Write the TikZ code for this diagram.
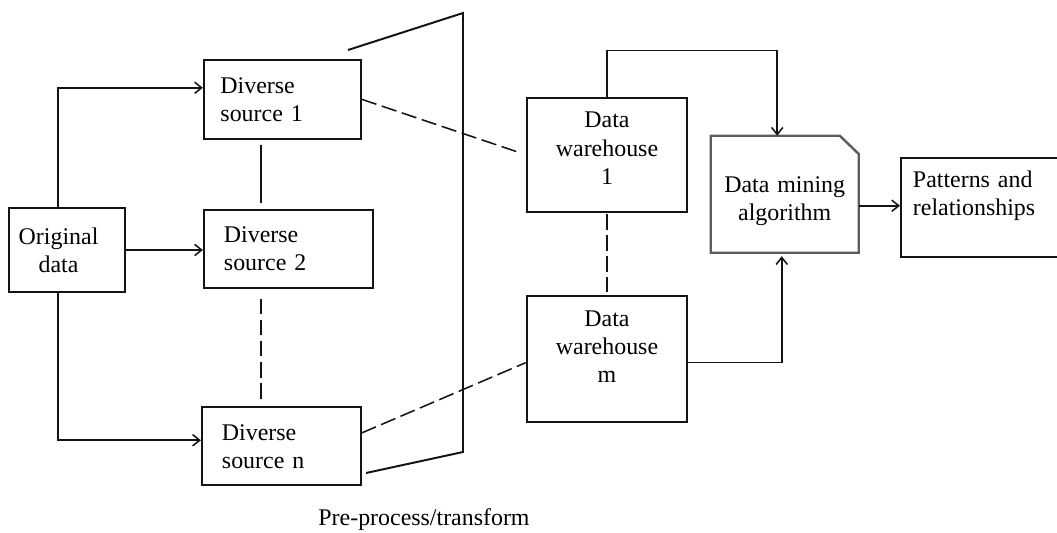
\documentclass[tikz,border=0pt]{standalone}
\usepackage{fontspec}
\setmainfont{Liberation Serif}
\usetikzlibrary{arrows.meta,calc}
\definecolor{dmInk}{HTML}{141414}
\definecolor{dmEdge}{HTML}{5C5C5C}
\tikzset{
  box/.style={draw=dmInk, line width=1.4pt, inner sep=0pt,
    font=\fontsize{17pt}{20pt}\selectfont},
  boxsize/.style 2 args={minimum width=#1, minimum height=#2},
  arr/.style={dmInk, line width=1.1pt, -{Straight Barb[length=5pt,width=8pt]}},
  link/.style={dmInk, line width=1.1pt},
  dashlink/.style={dmInk, line width=1.1pt, dash pattern=on 11pt off 4pt},
}

\begin{document}
\begin{tikzpicture}[x=0.025cm, y=-0.025cm]
  \useasboundingbox (0,0) rectangle (1057,532);
  \clip (0,0) rectangle (1057,532);

  % Pre-process funnel
  \draw[dmInk, line width=1.4pt] (348,50) -- (463,13) -- (463,452) -- (366,473);
  \node[font=\fontsize{17pt}{20pt}\selectfont, anchor=base] (preproc) at (424,525)
    {Pre-process/transform};

  % ---- Original data and diverse sources ----
  \node[box, boxsize={2.885cm}{2.1cm}, text width=2.5cm, align=center]
    (orig) at (67,250) {\hspace*{-12pt}Original\\\hspace*{-12pt}data};
  \node[box, boxsize={3.92cm}{1.97cm}, text width=3.09cm, align=left]
    (src1) at (282.3,99.3) {Diverse\\source 1};
  \node[box, boxsize={4.22cm}{1.95cm}, text width=3.215cm, align=left]
    (src2) at (288.3,249) {Diverse\\source 2};
  \node[box, boxsize={3.97cm}{1.95cm}, text width=2.965cm, align=left]
    (srcn) at (281.3,446.3) {Diverse\\source n};

  \draw[arr] ([xshift=-6.4pt]orig.north) |- ([yshift=8.2pt]src1.west);
  \draw[arr] (orig.east) -- (orig.east -| src2.west);
  \draw[arr] ([xshift=-6.4pt]orig.south) |- ([yshift=4.3pt]srcn.west);

  \draw[link, shorten <=4pt, shorten >=4pt]
    ([xshift=-15.2pt]src1.south) -- ([xshift=-15.2pt]src1.south |- src2.north);
  \draw[dashlink, shorten <=7pt, shorten >=5.5pt]
    ([xshift=-19.4pt]src2.south) -- ([xshift=-19.4pt]src2.south |- srcn.north);

  % ---- Data warehouses ----
  \node[box, boxsize={4.015cm}{2.85cm}, text width=3.5cm, align=center,
        text height=11.5pt, text depth=49.6pt]
    (wh1) at (607,154.7) {Data\\warehouse\\1};
  \node[box, boxsize={4.015cm}{3.15cm}, text width=3.5cm, align=center,
        text height=11.5pt, text depth=57.8pt]
    (whm) at (607,359) {Data\\warehouse\\m};

  \draw[dashlink, shorten >=3.5pt] (src1.east) -- (wh1.west);
  \draw[dashlink] ([yshift=9.5pt]srcn.east) -- ([yshift=-2.6pt]whm.west);
  \draw[dashlink, shorten <=1pt, shorten >=2pt] (wh1.south) -- (whm.north);

  % ---- Mining and results ----
  \node[box, draw=none, boxsize={3.65cm}{2.875cm}, text width=3.25cm, align=center,
        text height=11.5pt, text depth=13.5pt]
    (mining) at (784.7,194.2) {Data mining\\algorithm};
  \draw[dmEdge, line width=1.7pt]
    (mining.south west) -- (mining.north west) -- ([xshift=-13.5pt]mining.north east)
    -- ([yshift=-13pt]mining.north east) -- (mining.south east) -- cycle;

  \node[box, boxsize={4.025cm}{2.46cm}, text width=3.425cm, align=left,
        text height=11.5pt, text depth=40.5pt]
    (patterns) at (981.5,207.5) {Patterns and\\relationships};

  \draw[arr] (wh1.north) -- ++(0,-46) -| ([xshift=-5.3pt]mining.north);
  \draw[arr, shorten >=2.5pt] ([yshift=-2.6pt]whm.east) -| ([xshift=-2.1pt]mining.south);
  \draw[arr] ([yshift=-8.2pt]mining.east) -- ([yshift=-8.2pt]mining.east -| patterns.west);
\end{tikzpicture}
\end{document}
